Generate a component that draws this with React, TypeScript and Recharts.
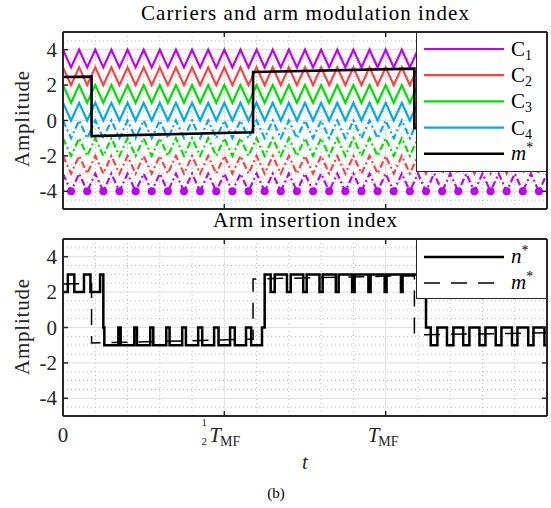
import React from "react";
import { LineChart, Line, XAxis, YAxis, Legend, ReferenceLine } from "recharts";

// time in units of T_MF
const T_END = 1.5;
const CARRIER_PERIODS = 30;

const CARRIER_LABELS = ["1", "2", "3", "4"];
const CARRIER_COLORS = ["#BF00FF", "#FF4040", "#00E000", "#00AAEE"];
const UPPER_PEAKS = [4, 3, 2, 1];
const LOWER_PEAKS = [-3, -2, -1, 0];

// arm modulation index m* (vertices)
const M_T = [0, 0.0885, 0.0885, 0.589, 0.589, 1.089, 1.089, 1.5];
const M_V = [2.46, 2.48, -0.88, -0.66, 2.74, 2.93, -0.42, -0.3];

// arm insertion index n*: switching instants and level after each switch
const N_T = [
  0, 0.015, 0.035, 0.065, 0.085, 0.115, 0.125, 0.1281,
  0.1716, 0.1787, 0.221, 0.2292, 0.2705, 0.2798, 0.32, 0.3303, 0.3694, 0.3809,
  0.4189, 0.4314, 0.4683, 0.482, 0.5178, 0.5325, 0.5672, 0.5831, 0.6167, 0.625,
  0.6436, 0.6562, 0.6941, 0.7057, 0.7446, 0.7552, 0.795, 0.8047, 0.8455, 0.8543,
  0.896, 0.9038, 0.9465, 0.9533, 0.9969, 1.0028, 1.0474, 1.0524, 1.0979, 1.1019,
  1.125, 1.1396, 1.1603, 1.19, 1.2099, 1.2403, 1.2595, 1.2907, 1.3092, 1.341,
  1.3588, 1.3914, 1.4084, 1.4418, 1.4581, 1.4921, 1.5,
];
const N_V = [
  2, 3, 2, 3, 2, 3, 0, -1,
  0, -1, 0, -1, 0, -1, 0, -1, 0, -1,
  0, -1, 0, -1, 0, -1, 0, -1, 0, 3,
  2, 3, 2, 3, 2, 3, 2, 3, 2, 3,
  2, 3, 2, 3, 2, 3, 2, 3, 2, 3,
  0, -1, 0, -1, 0, -1, 0, -1, 0, -1,
  0, -1, 0, -1, 0, -1, -1,
];

const X_TICKS = [0, 0.5, 1];
const X_TICK_LABELS = ["0", "1/2 T_MF", "T_MF"];
const Y_TICKS = [-4, -2, 0, 2, 4];
const X_MAJOR_GRID = [0.5, 1];
const X_MINOR = [0.1, 0.2, 0.3, 0.4, 0.6, 0.7, 0.8, 0.9, 1.1, 1.2, 1.3, 1.4];
const Y_MINOR = [-4.5, -3.5, -3, -2.5, -1.5, -1, -0.5, 0.5, 1, 1.5, 2.5, 3, 3.5, 4.5];

const FONT = "Liberation Serif, serif";
const INK = "#262626";
const W = 551;
const PLOT_W = 484;
const PLOT_H = 177;
const TICK_LEN = 5;
const X_TICK_MARGIN = 26;
const Y_TICK_MARGIN = 6;
const TXT = { fontFamily: FONT };

const carrierRows = Array.from({ length: 2 * CARRIER_PERIODS + 1 }, (_, i) => {
  const row: Record<string, number> = { t: (i * T_END) / (2 * CARRIER_PERIODS) };
  UPPER_PEAKS.forEach((p, k) => (row[`u${k}`] = i % 2 === 0 ? p : p - 1));
  LOWER_PEAKS.forEach((p, k) => (row[`l${k}`] = i % 2 === 0 ? p : p - 1));
  return row;
});
const mRows = M_T.map((t, i) => ({ t, v: M_V[i] }));
const nRows = N_T.map((t, i) => ({ t, v: N_V[i] }));

function YTick(props: any) {
  const { x, y, payload } = props;
  const ax = x + Y_TICK_MARGIN;
  return (
    <g>
      <line x1={ax} x2={ax + TICK_LEN} y1={y} y2={y} stroke={INK} strokeWidth={1.5} />
      <line x1={ax + PLOT_W} x2={ax + PLOT_W - TICK_LEN} y1={y} y2={y} stroke={INK} strokeWidth={1.5} />
      <text x={x} y={y} dy="0.34em" textAnchor="end" fontSize={21} fill={INK} style={TXT}>
        {payload.value}
      </text>
    </g>
  );
}

function TmfLabel({ x, y }: { x: number; y: number }) {
  return (
    <text x={x} y={y} fontSize={21} fill={INK} style={TXT}>
      <tspan fontStyle="italic">T</tspan>
      <tspan fontSize={14} dy={4} dx={-1}>MF</tspan>
    </text>
  );
}

function XTick(props: any) {
  const { x, y, index, labels } = props;
  const ay = y - X_TICK_MARGIN;
  const label = X_TICK_LABELS[index] ?? "";
  let content: React.ReactNode = null;
  if (labels) {
    if (label.startsWith("1/2")) {
      content = (
        <g>
          <text x={x - 20} y={y - 16} fontSize={11} textAnchor="middle" fill={INK} style={TXT}>1</text>
          <text x={x - 20} y={y + 3} fontSize={11} textAnchor="middle" fill={INK} style={TXT}>2</text>
          <TmfLabel x={x - 15} y={y} />
        </g>
      );
    } else if (label === "T_MF") {
      content = <TmfLabel x={x - 18} y={y} />;
    } else {
      content = (
        <text x={x} y={y} textAnchor="middle" fontSize={21} fill={INK} style={TXT}>
          {label}
        </text>
      );
    }
  }
  return (
    <g>
      <line x1={x} x2={x} y1={ay} y2={ay - TICK_LEN} stroke={INK} strokeWidth={1.5} />
      <line x1={x} x2={x} y1={ay - PLOT_H} y2={ay - PLOT_H + TICK_LEN} stroke={INK} strokeWidth={1.5} />
      {content}
    </g>
  );
}

function Starred({ x, y, base }: { x: number; y: number; base: string }) {
  return (
    <text x={x} y={y} fontSize={21} fill="#000" style={TXT}>
      <tspan fontStyle="italic">{base}</tspan>
      <tspan fontSize={14} dy={-8}>*</tspan>
    </text>
  );
}

const ROW_STEP = 26.2;

function CarrierLegend() {
  const mRow = 17 + 4 * ROW_STEP;
  return (
    <svg width={131} height={140} style={{ display: "block" }}>
      <rect x={0.5} y={0.5} width={130} height={139} fill="#fff" stroke={INK} strokeWidth={1} />
      {CARRIER_LABELS.map((s, k) => {
        const cy = 17 + k * ROW_STEP;
        return (
          <g key={s}>
            <line x1={8} x2={88} y1={cy} y2={cy} stroke={CARRIER_COLORS[k]} strokeWidth={2.2} />
            <text x={95} y={cy + 7} fontSize={21} fill="#000" style={TXT}>
              C<tspan fontSize={14} dy={4}>{s}</tspan>
            </text>
          </g>
        );
      })}
      <line x1={8} x2={88} y1={mRow} y2={mRow} stroke="#000" strokeWidth={2.5} />
      <Starred x={95} y={mRow + 6} base="m" />
    </svg>
  );
}

function InsertionLegend() {
  return (
    <svg width={131} height={60} style={{ display: "block" }}>
      <rect x={0.5} y={0.5} width={130} height={59} fill="#fff" stroke={INK} strokeWidth={1} />
      <line x1={8} x2={88} y1={18} y2={18} stroke="#000" strokeWidth={2.5} />
      <Starred x={95} y={24} base="n" />
      <line x1={8} x2={88} y1={44} y2={44} stroke="#000" strokeWidth={1.5} strokeDasharray="16 11" />
      <Starred x={95} y={50} base="m" />
    </svg>
  );
}

function grid() {
  return [
    ...X_MINOR.map((v) => <ReferenceLine key={`xm${v}`} x={v} stroke="#bdbdbd" strokeDasharray="1 3" />),
    ...Y_MINOR.map((v) => <ReferenceLine key={`ym${v}`} y={v} stroke="#bdbdbd" strokeDasharray="1 3" />),
    ...X_MAJOR_GRID.map((v) => <ReferenceLine key={`xM${v}`} x={v} stroke="#dedede" />),
    ...Y_TICKS.map((v) => <ReferenceLine key={`yM${v}`} y={v} stroke="#dedede" />),
  ];
}

function frame() {
  return [
    <ReferenceLine key="f1" x={0} stroke={INK} strokeWidth={2} />,
    <ReferenceLine key="f2" x={T_END} stroke={INK} strokeWidth={2} />,
    <ReferenceLine key="f3" y={5} stroke={INK} strokeWidth={2} />,
    <ReferenceLine key="f4" y={-5} stroke={INK} strokeWidth={2} />,
  ];
}

function axes(xHeight: number, labels: boolean) {
  return [
    <XAxis
      key="x"
      dataKey="t"
      type="number"
      domain={[0, T_END]}
      ticks={X_TICKS}
      interval={0}
      height={xHeight}
      axisLine={false}
      tickLine={false}
      tickSize={0}
      tickMargin={X_TICK_MARGIN}
      tick={(p: any) => <XTick {...p} labels={labels} />}
    />,
    <YAxis
      key="y"
      type="number"
      domain={[-5, 5]}
      ticks={Y_TICKS}
      interval={0}
      width={63}
      axisLine={false}
      tickLine={false}
      tickSize={0}
      tickMargin={Y_TICK_MARGIN}
      tick={(p: any) => <YTick {...p} />}
    />,
  ];
}

export default function App() {
  const troughDot = (p: any) =>
    p.payload.l0 === LOWER_PEAKS[0] - 1 ? (
      <circle key={`d${p.index}`} cx={p.cx} cy={p.cy} r={4} fill={CARRIER_COLORS[0]} />
    ) : (
      <g key={`d${p.index}`} />
    );

  return (
    <div style={{ position: "absolute", left: 0, top: 0, width: W, height: 508, background: "#fff", fontFamily: FONT }}>
      <svg width={W} height={508} style={{ position: "absolute", left: 0, top: 0, fontFamily: FONT }}>
        <text x={305} y={20} textAnchor="middle" fontSize={21} fill="#000" style={TXT} textLength={328} lengthAdjust="spacing">
          Carriers and arm modulation index
        </text>
        <text x={305} y={227} textAnchor="middle" fontSize={21} fill="#000" style={TXT} textLength={184} lengthAdjust="spacing">
          Arm insertion index
        </text>
        <text transform="translate(29,119) rotate(-90)" textAnchor="middle" fontSize={21} fill={INK} style={TXT} textLength={96} lengthAdjust="spacing">
          Amplitude
        </text>
        <text transform="translate(29,327) rotate(-90)" textAnchor="middle" fontSize={21} fill={INK} style={TXT} textLength={96} lengthAdjust="spacing">
          Amplitude
        </text>
        <text x={305} y={469} textAnchor="middle" fontSize={21} fontStyle="italic" fill={INK} style={TXT}>
          t
        </text>
        <text x={276} y={498} textAnchor="middle" fontSize={15} fill="#000" style={TXT}>
          (b)
        </text>
      </svg>

      <div style={{ position: "absolute", left: 0, top: 0 }}>
        <LineChart width={W} height={215} data={carrierRows} margin={{ top: 32, right: 4, bottom: 0, left: 0 }}>
          {axes(6, false)}
          {grid()}
          {UPPER_PEAKS.map((_, k) => (
            <Line
              key={`u${k}`}
              dataKey={`u${k}`}
              type="linear"
              stroke={CARRIER_COLORS[k]}
              strokeWidth={2.2}
              dot={false}
              isAnimationActive={false}
            />
          ))}
          {LOWER_PEAKS.map((_, k) => (
            <Line
              key={`l${k}`}
              dataKey={`l${k}`}
              type="linear"
              stroke={CARRIER_COLORS[k]}
              strokeWidth={2.2}
              strokeDasharray="7 3 2 3"
              dot={k === 0 ? troughDot : false}
              isAnimationActive={false}
            />
          ))}
          <Line data={mRows} dataKey="v" type="linear" stroke="#000" strokeWidth={2.6} dot={false} isAnimationActive={false} />
          {frame()}
          <Legend
            layout="vertical"
            align="center"
            verticalAlign="middle"
            wrapperStyle={{ left: 416, top: 32, width: 131, height: 140 }}
            content={() => <CarrierLegend />}
          />
        </LineChart>
      </div>

      <div style={{ position: "absolute", left: 0, top: 215 }}>
        <LineChart width={W} height={293} margin={{ top: 24, right: 4, bottom: 0, left: 0 }}>
          {axes(92, true)}
          {grid()}
          <Line data={nRows} dataKey="v" type="stepAfter" stroke="#000" strokeWidth={2.5} dot={false} isAnimationActive={false} />
          <Line data={mRows} dataKey="v" type="linear" stroke="#000" strokeWidth={1.5} strokeDasharray="16 11" dot={false} isAnimationActive={false} />
          {frame()}
          <Legend
            layout="vertical"
            align="center"
            verticalAlign="middle"
            wrapperStyle={{ left: 416, top: 24, width: 131, height: 60 }}
            content={() => <InsertionLegend />}
          />
        </LineChart>
      </div>
    </div>
  );
}
